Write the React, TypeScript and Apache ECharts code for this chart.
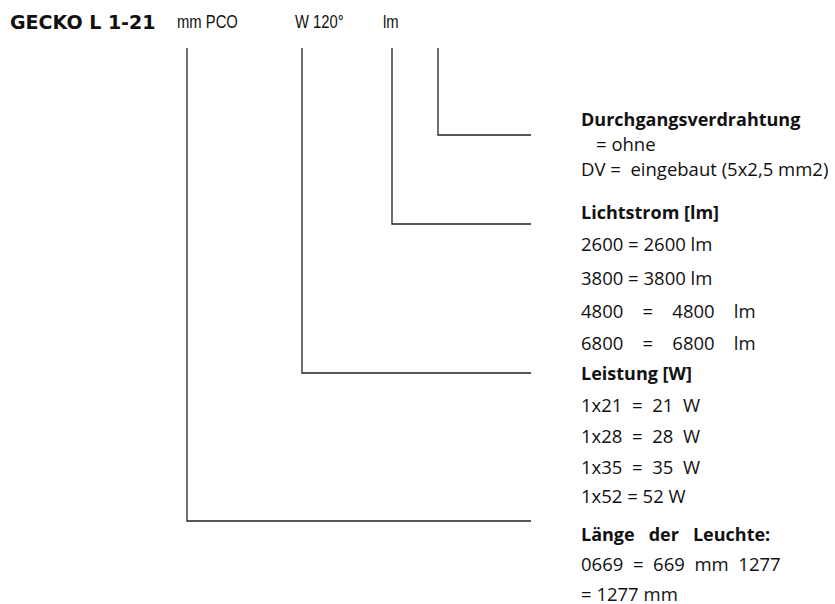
import React, { useEffect, useRef } from "react";
import * as echarts from "echarts";

const codeTitle = "GECKO L 1-21";
const codeParts = ["mm PCO", "W 120°", "lm"];
const codePartX = [177, 295, 383];

// leader lines: vertical x, bend y (from last option group to first)
const leaderX = [187, 302, 392, 438];
const leaderBendY = [521, 373, 224, 135];
const leaderTop = 48;
const leaderEnd = 531;

const groupHeadings = ["Durchgangsverdrahtung", "Lichtstrom [lm]", "Leistung [W]", "Länge   der   Leuchte:"];
const groupHeadingY = [119, 212, 373, 534];
const groupItems = [
  ["= ohne", "DV =  eingebaut (5x2,5 mm2)"],
  ["2600 = 2600 lm", "3800 = 3800 lm", "4800    =    4800    lm", "6800    =    6800    lm"],
  ["1x21  =  21  W", "1x28  =  28  W", "1x35  =  35  W", "1x52 = 52 W"],
  ["0669  =  669  mm  1277", "= 1277 mm"],
];
const groupItemY = [
  [143, 168],
  [243, 277, 310, 342],
  [404, 435, 466, 495],
  [563, 593],
];
const groupItemX = [
  [596, 581],
  [581, 581, 581, 581],
  [581, 581, 581, 581],
  [581, 581],
];

const TEXT_X = 581;
const BODY_FONT = '18.5px "Open Sans", "Noto Sans", sans-serif';
const HEAD_FONT = 'bold 18px "Open Sans", "Noto Sans", sans-serif';

export default function App() {
  const ref = useRef<HTMLDivElement>(null);
  useEffect(() => {
    document.body.style.margin = "0";
    const chart = echarts.init(ref.current!, null, { renderer: "svg" });
    const elements: any[] = [];
    elements.push({
      type: "text",
      style: {
        text: codeTitle,
        x: 10,
        y: 22,
        font: 'bold 19px "DejaVu Sans", sans-serif',
        fill: "#111",
        textVerticalAlign: "middle",
      },
    });
    codeParts.forEach((p, i) => {
      elements.push({
        type: "text",
        x: codePartX[i],
        y: 22,
        scaleX: 0.8,
        scaleY: 1,
        style: {
          text: p,
          x: 0,
          y: 0,
          font: '18.5px "Liberation Sans", sans-serif',
          fill: "#111",
          textVerticalAlign: "middle",
        },
      });
    });
    leaderX.forEach((x, i) => {
      elements.push({
        type: "polyline",
        shape: { points: [[x, leaderTop], [x, leaderBendY[i]], [leaderEnd, leaderBendY[i]]] },
        style: { stroke: "#222", lineWidth: 1.3, fill: null },
      });
    });
    groupHeadings.forEach((h, gi) => {
      elements.push({
        type: "text",
        style: {
          text: h,
          x: TEXT_X,
          y: groupHeadingY[gi],
          font: HEAD_FONT,
          fill: "#111",
          textVerticalAlign: "middle",
        },
      });
      groupItems[gi].forEach((t, ii) => {
        elements.push({
          type: "text",
          style: {
            text: t,
            x: groupItemX[gi][ii],
            y: groupItemY[gi][ii],
            font: BODY_FONT,
            fill: "#111",
            textVerticalAlign: "middle",
          },
        });
      });
    });
    chart.setOption({ animation: false, graphic: { elements } });
    return () => chart.dispose();
  }, []);
  return <div ref={ref} style={{ width: 835, height: 604, background: "#fff" }} />;
}
